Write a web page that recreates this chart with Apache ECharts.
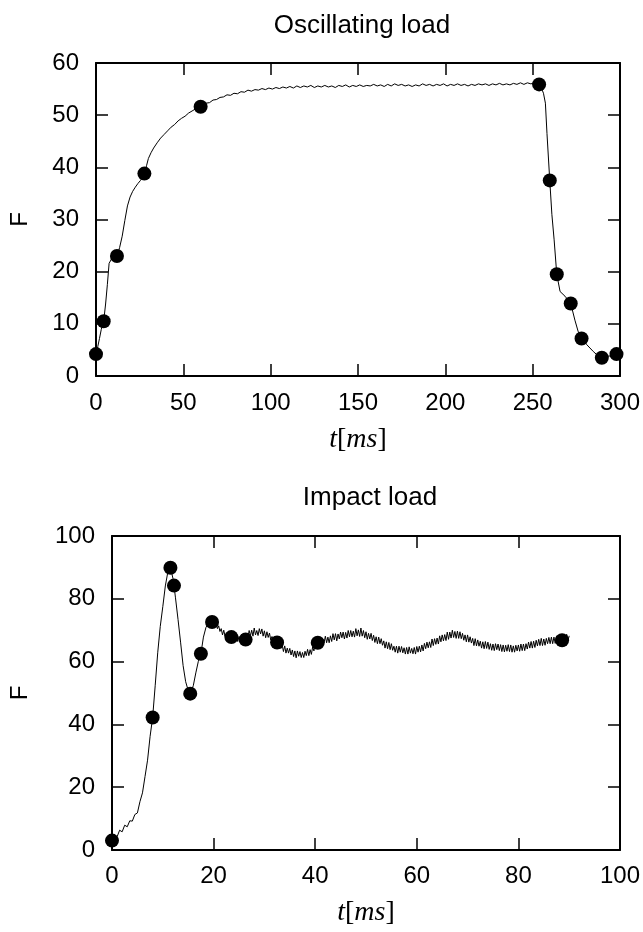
<!DOCTYPE html>
<html>
<head>
<meta charset="utf-8">
<script src="https://cdn.jsdelivr.net/npm/echarts@6/dist/echarts.min.js"></script>
<style>html,body{margin:0;padding:0;background:#fff}#c{width:643px;height:932px}</style>
</head>
<body>
<div id="c"></div>
<script>
// ---------- Data ----------
const titles = ['Oscillating load', 'Impact load'];
const oscXTicks = [0, 50, 100, 150, 200, 250, 300];
const oscYTicks = [0, 10, 20, 30, 40, 50, 60];
const impXTicks = [0, 20, 40, 60, 80, 100];
const impYTicks = [0, 20, 40, 60, 80, 100];

// Oscillating load: measured curve [t (ms), F]
const oscCurve = [[0,4.2],[1,5.6],[2,7.2],[3,8.9],[4.4,10.5],[5.5,13.8],[6.5,17.5],[7.5,21.6],[9,22.5],[10.5,22.8],[12,23.0],[13.5,24.6],[15,26.8],[16.5,29.8],[18,32.6],[19.5,34.3],[21,35.4],[22.5,36.2],[24,36.9],[25.5,37.5],[27,38.3],[28,39.0],[29,40.4],[30,41.7],[31.5,42.8],[33,43.7],[35,44.7],[37,45.6],[39,46.3],[41,47.0],[43,47.7],[45,48.2],[47,48.9],[49,49.4],[51,49.8],[53,50.4],[55,50.8],[57,51.2],[59,51.5],[61,51.9],[63,52.3],[65,52.4],[67,52.9],[69,53.0],[71,53.4],[73,53.5],[75,53.9],[77,53.8],[79,54.2],[81,54.1],[83,54.5],[85,54.4],[87,54.8],[89,54.6],[91,54.9],[93,54.8],[95,55.1],[97,54.9],[99,55.2],[101,55.0],[103,55.3],[105,55.1],[107,55.4],[109,55.2],[111,55.5],[113,55.2],[115,55.6],[117,55.3],[119,55.6],[121,55.4],[123,55.7],[125,55.3],[127,55.6],[129,55.4],[131,55.7],[133,55.4],[135,55.6],[137,55.3],[139,55.7],[141,55.5],[143,55.8],[145,55.4],[147,55.7],[149,55.5],[151,55.8],[153,55.5],[155,55.7],[157,55.6],[159,55.9],[161,55.6],[163,55.8],[165,55.5],[167,55.9],[169,55.6],[171,56.0],[173,55.7],[175,55.9],[177,55.6],[179,55.8],[181,55.5],[183,55.8],[185,55.6],[187,56.0],[189,55.7],[191,55.9],[193,55.6],[195,55.9],[197,55.7],[199,56.0],[201,55.6],[203,55.9],[205,55.7],[207,56.0],[209,55.7],[211,55.9],[213,55.6],[215,55.9],[217,55.7],[219,56.0],[221,55.8],[223,56.0],[225,55.7],[227,56.0],[229,55.8],[231,56.1],[233,55.8],[235,56.0],[237,55.8],[239,56.1],[241,55.9],[243,56.2],[245,55.9],[247,56.2],[249,56.0],[251,56.2],[253.7,55.9],[255,55.2],[256.2,54.2],[257.3,52.3],[258.2,46.5],[259.8,37.5],[261,31.0],[262.3,26.1],[263.8,19.5],[265.7,16.2],[268.5,15.3],[270,14.7],[271.8,13.9],[274.2,10.7],[276,8.6],[278,7.2],[281,6.0],[284.7,4.7],[287,4.0],[289.6,3.5],[292,3.7],[295,3.9],[298,4.2]];
// Oscillating load: marked points
const oscPoints = [[0,4.2],[4.4,10.5],[12,23.0],[27.7,38.8],[59.9,51.6],[253.7,55.9],[259.8,37.5],[263.8,19.5],[271.8,13.9],[278,7.2],[289.6,3.5],[298,4.2]];

// Impact load: measured curve [t (ms), F]
const impCurve = [[0,3],[0.5,4.8],[1,4.2],[1.5,6.3],[2,5.8],[2.5,7.9],[3,7.4],[3.5,9.3],[4,9.2],[4.5,11.3],[5,11.8],[5.5,15.4],[6,18.2],[6.5,23.4],[7,28.6],[7.5,36.2],[8,42.2],[8.5,52.3],[9,62.8],[9.5,71.2],[10,77.5],[10.5,84.1],[11,88.6],[11.5,89.9],[12,86.5],[12.2,84.2],[12.5,80.3],[13,73.4],[13.5,66.2],[14,58.7],[14.5,53.6],[15,50.8],[15.4,49.8],[16,52.3],[16.5,56.4],[17,60.1],[17.5,62.5],[18,67.8],[18.5,70.9],[19,72.3],[19.5,72.4],[19.8,72.6],
[20,72.9],[20.25,71.1],[20.5,72.4],[20.75,70.5],[21,71.4],[21.25,69.6],[21.5,70.5],[21.75,68.5],[22,70.0],[22.25,68.1],[22.5,69.0],[22.75,67.3],[23,68.9],[23.25,67.1],[23.5,68.4],[23.75,66.7],[24,68.6],[24.25,66.9],[24.5,68.2],[24.75,66.4],[25,68.0],[25.25,66.5],[25.5,68.7],[25.75,67.0],[26,68.6],[26.25,66.8],[26.5,68.8],[26.75,67.6],[27,69.9],[27.25,68.2],[27.5,70.0],[27.75,68.1],[28,70.7],[28.25,68.5],[28.5,69.9],[28.75,68.3],[29,70.5],[29.25,68.8],[29.5,70.4],[29.75,68.1],
[30,69.8],[30.25,67.6],[30.5,69.5],[30.75,67.7],[31,69.1],[31.25,66.9],[31.5,68.0],[31.75,65.9],[32,67.5],[32.25,65.3],[32.5,67.2],[32.75,65.0],[33,66.7],[33.25,64.2],[33.5,65.3],[33.75,63.2],[34,65.0],[34.25,62.7],[34.5,64.3],[34.75,62.7],[35,64.2],[35.25,62.1],[35.5,63.7],[35.75,61.6],[36,63.4],[36.25,61.2],[36.5,63.4],[36.75,61.7],[37,63.2],[37.25,61.3],[37.5,62.9],[37.75,61.3],[38,63.3],[38.25,61.9],[38.5,63.9],[38.75,61.9],[39,63.8],[39.25,62.3],[39.5,64.7],[39.75,63.4],
[40,65.7],[40.25,64.1],[40.5,66.2],[40.75,64.5],[41,66.9],[41.25,64.9],[41.5,67.2],[41.75,66.0],[42,68.1],[42.25,66.0],[42.5,67.8],[42.75,66.0],[43,68.2],[43.25,66.4],[43.5,68.9],[43.75,66.9],[44,68.9],[44.25,66.6],[44.5,68.8],[44.75,67.2],[45,69.4],[45.25,67.6],[45.5,69.4],[45.75,67.2],[46,69.3],[46.25,67.5],[46.5,69.9],[46.75,67.9],[47,69.9],[47.25,67.9],[47.5,69.7],[47.75,67.8],[48,70.5],[48.25,68.2],[48.5,70.1],[48.75,68.0],[49,70.7],[49.25,68.1],[49.5,69.9],[49.75,67.6],
[50,69.5],[50.25,67.1],[50.5,69.0],[50.75,67.2],[51,69.0],[51.25,66.7],[51.5,68.4],[51.75,66.1],[52,67.9],[52.25,65.7],[52.5,67.8],[52.75,65.7],[53,67.3],[53.25,65.2],[53.5,66.6],[53.75,64.3],[54,66.3],[54.25,64.1],[54.5,66.1],[54.75,63.8],[55,65.7],[55.25,63.6],[55.5,64.9],[55.75,63.0],[56,64.9],[56.25,62.7],[56.5,64.9],[56.75,63.0],[57,64.8],[57.25,62.8],[57.5,64.4],[57.75,62.4],[58,64.5],[58.25,62.4],[58.5,64.7],[58.75,62.7],[59,64.2],[59.25,62.5],[59.5,64.5],[59.75,62.4],
[60,64.8],[60.25,63.0],[60.5,64.9],[60.75,63.1],[61,65.3],[61.25,63.4],[61.5,65.8],[61.75,64.1],[62,66.2],[62.25,64.4],[62.5,66.3],[62.75,64.5],[63,67.2],[63.25,65.1],[63.5,67.3],[63.75,65.5],[64,67.5],[64.25,65.6],[64.5,68.2],[64.75,66.3],[65,68.5],[65.25,66.6],[65.5,68.6],[65.75,66.7],[66,69.4],[66.25,67.1],[66.5,69.4],[66.75,67.5],[67,70.0],[67.25,67.7],[67.5,69.6],[67.75,67.4],[68,69.7],[68.25,67.4],[68.5,69.5],[68.75,67.3],[69,69.0],[69.25,66.8],[69.5,68.5],[69.75,66.3],
[70,68.5],[70.25,66.2],[70.5,67.9],[70.75,65.9],[71,67.4],[71.25,65.1],[71.5,67.3],[71.75,65.0],[72,66.9],[72.25,64.9],[72.5,66.5],[72.75,64.3],[73,66.3],[73.25,64.1],[73.5,66.4],[73.75,64.2],[74,66.2],[74.25,63.9],[74.5,65.7],[74.75,63.6],[75,65.6],[75.25,63.5],[75.5,65.7],[75.75,63.8],[76,65.6],[76.25,63.5],[76.5,65.4],[76.75,63.2],[77,65.3],[77.25,63.1],[77.5,65.2],[77.75,63.3],[78,65.4],[78.25,63.2],[78.5,65.3],[78.75,63.0],[79,65.0],[79.25,63.0],[79.5,65.2],[79.75,63.4],
[80,65.3],[80.25,63.3],[80.5,65.6],[80.75,63.5],[81,65.6],[81.25,63.5],[81.5,65.7],[81.75,64.0],[82,66.2],[82.25,64.3],[82.5,66.4],[82.75,64.3],[83,66.5],[83.25,64.5],[83.5,66.8],[83.75,65.0],[84,67.1],[84.25,65.1],[84.5,67.4],[84.75,65.1],[85,67.2],[85.25,65.2],[85.5,67.4],[85.75,65.7],[86,67.7],[86.25,65.7],[86.5,67.8],[86.75,65.7],[87,67.8],[87.25,65.8],[87.5,68.1],[87.75,66.1],[88,68.1],[88.25,66.1],[88.5,68.0],[88.75,66.0],[89,68.4],[89.25,66.4],[89.5,68.7],[89.75,66.6],[90,68.2]];
// Impact load: marked points
const impPoints = [[0,3.0],[8,42.2],[11.5,89.9],[12.2,84.2],[15.4,49.8],[17.5,62.5],[19.7,72.6],[23.5,67.8],[26.3,67.0],[32.5,66.1],[40.5,66.0],[88.6,66.8]];

// ---------- Chart ----------
const SANS = '"Liberation Sans", Arial, Helvetica, sans-serif';
const SERIF = '"Liberation Serif", "DejaVu Serif", serif';
const lineStyleAxis = { color: '#000', width: 2 };
const tickStyle = { show: true, inside: true, length: 12, lineStyle: { color: '#000', width: 1.5 } };
const labelStyle = { color: '#000', fontSize: 24, fontFamily: SANS };

function xAxes(grid, ticks, labelMargin, nameGap) {
  const base = { type: 'value', gridIndex: grid, min: ticks[0], max: ticks[ticks.length - 1],
    interval: ticks[1] - ticks[0], splitLine: { show: false }, axisLine: { show: true, onZero: false, lineStyle: lineStyleAxis },
    axisTick: tickStyle };
  return [
    Object.assign({}, base, { position: 'bottom',
      axisLabel: Object.assign({ margin: labelMargin }, labelStyle),
      name: '{i|t}{n|[}{i|ms}{n|]}', nameLocation: 'middle', nameGap: nameGap,
      nameTextStyle: { rich: {
        i: { fontFamily: SERIF, fontStyle: 'italic', fontSize: 28, color: '#000' },
        n: { fontFamily: SERIF, fontSize: 28, color: '#000' } } } }),
    Object.assign({}, base, { position: 'top', axisLabel: { show: false } })
  ];
}
function yAxes(grid, ticks, gap) {
  const base = { type: 'value', gridIndex: grid, min: ticks[0], max: ticks[ticks.length - 1],
    interval: ticks[1] - ticks[0], splitLine: { show: false }, axisLine: { show: true, onZero: false, lineStyle: lineStyleAxis },
    axisTick: tickStyle };
  return [
    Object.assign({}, base, { position: 'left',
      axisLabel: Object.assign({ margin: 17 }, labelStyle),
      name: 'F', nameLocation: 'middle', nameRotate: 90, nameGap: gap,
      nameTextStyle: { color: '#000', fontSize: 24, fontFamily: SANS } }),
    Object.assign({}, base, { position: 'right', axisLabel: { show: false } })
  ];
}

const chart = echarts.init(document.getElementById('c'), null, { renderer: 'canvas' });
chart.setOption({
  backgroundColor: '#fff',
  animation: false,
  title: [
    { text: titles[0], left: 357, top: 8, textAlign: 'center',
      textStyle: { color: '#000', fontSize: 26, fontWeight: 'normal', fontFamily: SANS } },
    { text: titles[1], left: 365, top: 480, textAlign: 'center',
      textStyle: { color: '#000', fontSize: 26, fontWeight: 'normal', fontFamily: SANS } }
  ],
  grid: [
    { left: 94, top: 63, width: 526, height: 313 },
    { left: 110, top: 536, width: 510, height: 314 }
  ],
  xAxis: [...xAxes(0, oscXTicks, 15, 50), ...xAxes(1, impXTicks, 14, 49)],
  yAxis: [...yAxes(0, oscYTicks, 64), ...yAxes(1, impYTicks, 80)],
  series: [
    { type: 'line', xAxisIndex: 0, yAxisIndex: 0, data: oscCurve, showSymbol: false,
      lineStyle: { color: '#000', width: 1 }, silent: true },
    { type: 'scatter', xAxisIndex: 0, yAxisIndex: 0, data: oscPoints, symbol: 'circle', symbolSize: 14,
      itemStyle: { color: '#000', opacity: 1 } },
    { type: 'line', xAxisIndex: 2, yAxisIndex: 2, data: impCurve, showSymbol: false,
      lineStyle: { color: '#000', width: 1 }, silent: true },
    { type: 'scatter', xAxisIndex: 2, yAxisIndex: 2, data: impPoints, symbol: 'circle', symbolSize: 14,
      itemStyle: { color: '#000', opacity: 1 } }
  ]
});
</script>
</body>
</html>
